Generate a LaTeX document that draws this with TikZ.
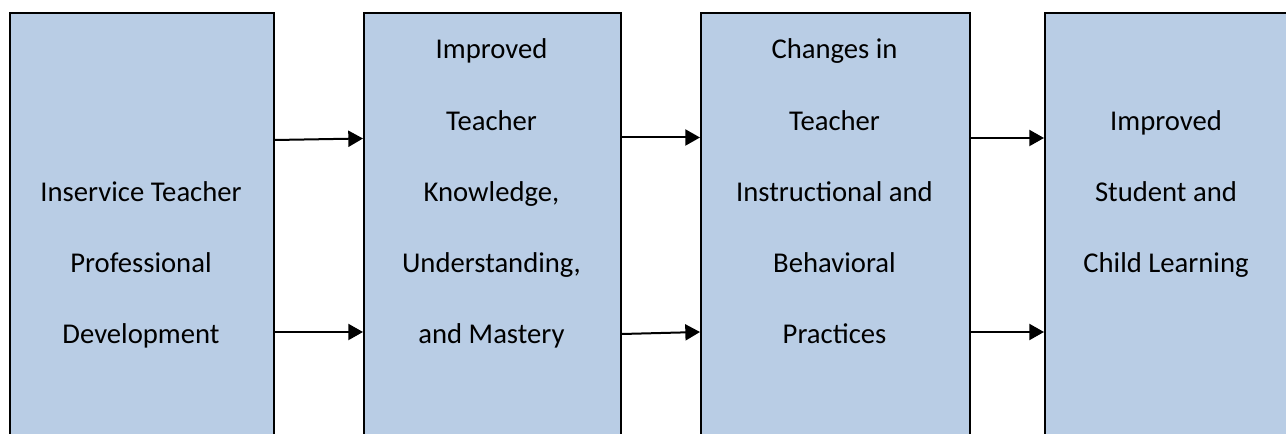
\documentclass[tikz,border=0pt]{standalone}
\usepackage{fontspec}
\setmainfont{Carlito}
\usetikzlibrary{arrows.meta,calc}
\definecolor{boxfill}{HTML}{B9CDE5}
\tikzset{
  box/.style={draw=black, fill=boxfill, line width=1.5pt, rectangle, inner sep=0pt, anchor=north west},
  lbl/.style={anchor=base, inner sep=0pt, font=\fontsize{21.5pt}{26pt}\selectfont},
  arr/.style={line width=1.5pt, -{Triangle[length=11pt,width=12pt]}}
}
\begin{document}
\begin{tikzpicture}[x=0.75pt,y=-0.75pt]
\useasboundingbox (0,0) rectangle (1286,434);
\node[box, minimum width=198pt, minimum height=340pt] (b1) at (9,12) {};
\node[box, minimum width=192.75pt, minimum height=340pt] (b2) at (363,12) {};
\node[box, minimum width=201.75pt, minimum height=340pt] (b3) at (700,12) {};
\node[box, minimum width=183pt, minimum height=340pt] (b4) at (1044,12) {};
% box 1 text
\node[lbl] (t11) at (141,202) {Inservice Teacher};
\node[lbl] (t12) at (141,273) {Professional};
\node[lbl] (t13) at (141,344) {Development};
% box 2 text
\node[lbl] (t21) at (491.5,59) {Improved};
\node[lbl] (t22) at (491.5,131) {Teacher};
\node[lbl] (t23) at (491.5,202) {Knowledge,};
\node[lbl] (t24) at (491.5,273) {Understanding,};
\node[lbl] (t25) at (491.5,344) {and Mastery};
% box 3 text
\node[lbl] (t31) at (834.5,59) {Changes in};
\node[lbl] (t32) at (834.5,131) {Teacher};
\node[lbl] (t33) at (834.5,202) {Instructional and};
\node[lbl] (t34) at (834.5,273) {Behavioral};
\node[lbl] (t35) at (834.5,344) {Practices};
% box 4 text
\node[lbl] (t41) at (1166,131) {Improved};
\node[lbl] (t42) at (1166,202) {Student and};
\node[lbl] (t43) at (1166,273) {Child Learning};
% arrows
\draw[arr] ($(b1.north east)+(0,128)$) -- ($(b2.north west)+(0,126.5)$);
\draw[arr] ($(b1.north east)+(0,320)$) -- ($(b2.north west)+(0,320)$);
\draw[arr] ($(b2.north east)+(0,125.5)$) -- ($(b3.north west)+(0,125.5)$);
\draw[arr] ($(b2.north east)+(0,322)$) -- ($(b3.north west)+(0,320)$);
\draw[arr] ($(b3.north east)+(0,126)$) -- ($(b4.north west)+(0,126)$);
\draw[arr] ($(b3.north east)+(0,320)$) -- ($(b4.north west)+(0,320)$);
\end{tikzpicture}
\end{document}
